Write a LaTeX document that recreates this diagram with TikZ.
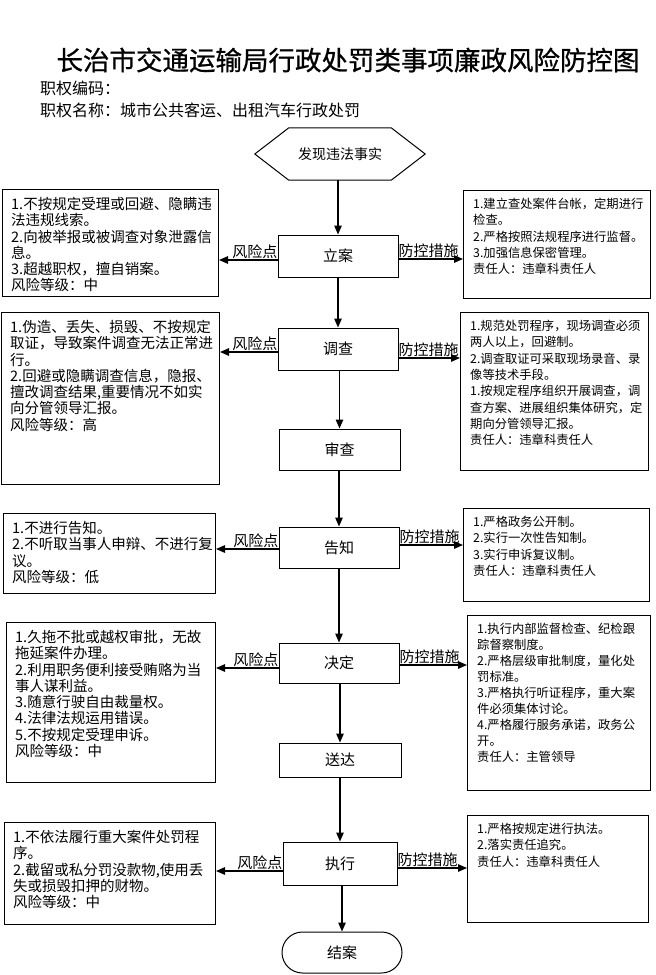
\documentclass[tikz,border=0pt]{standalone}
\usepackage{fontspec}
\setmainfont{Noto Sans CJK SC}
\newfontfamily\titlefont{Noto Sans CJK SC}[FakeBold=0.8]
\usetikzlibrary{arrows.meta,shapes.misc}
\begin{document}
\begin{tikzpicture}[x=1pt,y=1pt,
  frame/.style={draw=black, line width=1pt, inner sep=0pt},
  cbox/.style={frame, font=\fontsize{15}{18}\selectfont},
  lt/.style={align=left, inner sep=0pt, anchor=north west, font=\fontsize{14.5}{16.3}\selectfont},
  rt/.style={align=left, inner sep=0pt, anchor=north west, font=\fontsize{12.3}{16.3}\selectfont},
  lab/.style={inner xsep=0pt, inner ysep=1.5pt, font=\fontsize{15}{18}\selectfont},
  arr/.style={line width=1.3pt, -{Triangle[length=9pt,width=7.5pt]}}
]
\useasboundingbox (0,0) rectangle (656,-975);

% title and header
\node[inner sep=0pt, font=\titlefont\fontsize{26.5}{30}\selectfont] (title) at (348,-60) {长治市交通运输局行政处罚类事项廉政风险防控图};
\node[inner sep=0pt, anchor=west, font=\fontsize{16}{19}\selectfont] (code) at (40,-88) {职权编码：};
\node[inner sep=0pt, anchor=west, font=\fontsize{16}{19}\selectfont] (name) at (40,-110) {职权名称：城市公共客运、出租汽车行政处罚};

% start hexagon
\node[minimum width=170pt, minimum height=52pt, inner sep=0pt, font=\fontsize{14}{17}\selectfont] (hex) at (340,-154) {发现违法事实};
\draw[line width=1pt] (hex.west) -- ([xshift=34pt]hex.north west) -- ([xshift=-34pt]hex.north east) -- (hex.east) -- ([xshift=-34pt]hex.south east) -- ([xshift=34pt]hex.south west) -- cycle;

% centre steps
\node[cbox, minimum width=120pt, minimum height=42pt] (C1) at (338,-256) {立案};
\node[cbox, minimum width=120pt, minimum height=42pt] (C2) at (338,-349) {调查};
\node[cbox, minimum width=121pt, minimum height=41pt] (C3) at (339.5,-449.5) {审查};
\node[cbox, minimum width=120pt, minimum height=41pt] (C4) at (339,-547.5) {告知};
\node[cbox, minimum width=120pt, minimum height=40pt] (C5) at (339,-663) {决定};
\node[cbox, minimum width=122pt, minimum height=34pt] (C6) at (340,-760) {送达};
\node[cbox, minimum width=114pt, minimum height=43pt] (C7) at (340,-863.5) {执行};
\node[cbox, rounded rectangle, minimum width=120pt, minimum height=41pt] (E) at (342,-952.5) {结案};

% vertical flow
\draw[arr] (C1.north |- hex.south) -- (C1.north);
\draw[arr] (C2.north |- C1.south) -- (C2.north);
\draw[arr] (C3.north |- C2.south) -- (C3.north);
\draw[arr] (C4.north |- C3.south) -- (C4.north);
\draw[arr] (C5.north |- C4.south) -- (C5.north);
\draw[arr] (C6.north |- C5.south) -- (C6.north);
\draw[arr] (C7.north |- C6.south) -- (C7.north);
\draw[arr] (E.north |- C7.south) -- (E.north);

% left risk boxes
\node[frame, anchor=north west, minimum width=216pt, minimum height=107pt] (L1) at (2,-189) {};
\node[frame, anchor=north west, minimum width=218pt, minimum height=172pt] (L2) at (1,-312) {};
\node[frame, anchor=north west, minimum width=212pt, minimum height=80pt] (L3) at (3,-513) {};
\node[frame, anchor=north west, minimum width=209pt, minimum height=160pt] (L4) at (6,-622) {};
\node[frame, anchor=north west, minimum width=211pt, minimum height=102pt] (L5) at (4,-822) {};

\node[lt] (L1t) at ([xshift=9pt,yshift=-8pt]L1.north west) {1.不按规定受理或回避、隐瞒违\\法违规线索。\\2.向被举报或被调查对象泄露信\\息。\\3.超越职权，擅自销案。\\风险等级：中};
\node[lt] (L2t) at ([xshift=9pt,yshift=-8pt]L2.north west) {1.伪造、丢失、损毁、不按规定\\取证，导致案件调查无法正常进\\行。\\2.回避或隐瞒调查信息，隐报、\\擅改调查结果,重要情况不如实\\向分管领导汇报。\\风险等级：高};
\node[lt] (L3t) at ([xshift=9pt,yshift=-8pt]L3.north west) {1.不进行告知。\\2.不听取当事人申辩、不进行复\\议。\\风险等级：低};
\node[lt] (L4t) at ([xshift=9pt,yshift=-8pt]L4.north west) {1.久拖不批或越权审批，无故\\拖延案件办理。\\2.利用职务便利接受贿赂为当\\事人谋利益。\\3.随意行驶自由裁量权。\\4.法律法规运用错误。\\5.不按规定受理申诉。\\风险等级：中};
\node[lt] (L5t) at ([xshift=9pt,yshift=-8pt]L5.north west) {1.不依法履行重大案件处罚程\\序。\\2.截留或私分罚没款物,使用丢\\失或损毁扣押的财物。\\风险等级：中};

% right control boxes
\node[frame, anchor=north west, minimum width=187pt, minimum height=108pt] (R1) at (463,-190) {};
\node[frame, anchor=north west, minimum width=188pt, minimum height=158pt] (R2) at (460,-312) {};
\node[frame, anchor=north west, minimum width=186pt, minimum height=93pt] (R3) at (463,-508) {};
\node[frame, anchor=north west, minimum width=183pt, minimum height=175pt] (R4) at (467,-615) {};
\node[frame, anchor=north west, minimum width=181pt, minimum height=107pt] (R5) at (467,-815) {};

\node[rt] (R1t) at ([xshift=10pt,yshift=-8pt]R1.north west) {1.建立查处案件台帐，定期进行\\检查。\\2.严格按照法规程序进行监督。\\3.加强信息保密管理。\\责任人：违章科责任人};
\node[rt] (R2t) at ([xshift=10pt,yshift=-8pt]R2.north west) {1.规范处罚程序，现场调查必须\\两人以上，回避制。\\2.调查取证可采取现场录音、录\\像等技术手段。\\1.按规定程序组织开展调查，调\\查方案、进展组织集体研究，定\\期向分管领导汇报。\\责任人：违章科责任人};
\node[rt] (R3t) at ([xshift=10pt,yshift=-8pt]R3.north west) {1.严格政务公开制。\\2.实行一次性告知制。\\3.实行申诉复议制。\\责任人：违章科责任人};
\node[rt, font=\fontsize{12.3}{16}\selectfont] (R4t) at ([xshift=10pt,yshift=-8pt]R4.north west) {1.执行内部监督检查、纪检跟\\踪督察制度。\\2.严格层级审批制度，量化处\\罚标准。\\3.严格执行听证程序，重大案\\件必须集体讨论。\\4.严格履行服务承诺，政务公\\开。\\责任人：主管领导};
\node[rt] (R5t) at ([xshift=10pt,yshift=-8pt]R5.north west) {1.严格按规定进行执法。\\2.落实责任追究。\\责任人：违章科责任人};

% risk connectors (left)
\draw[arr] ([yshift=-4pt]C1.west) -- ([yshift=-4pt]C1.west -| L1.east);
\node[lab, anchor=south east] (k1) at ([yshift=-4pt]C1.west) {风险点};
\draw[arr] ([yshift=-3pt]C2.west) -- ([yshift=-3pt]C2.west -| L2.east);
\node[lab, anchor=south east] (k2) at ([yshift=-3pt]C2.west) {风险点};
\draw[arr] ([yshift=-1.5pt]C4.west) -- ([yshift=-1.5pt]C4.west -| L3.east);
\node[lab, anchor=south east] (k3) at ([yshift=-1.5pt]C4.west) {风险点};
\draw[arr] ([yshift=-5pt]C5.west) -- ([yshift=-5pt]C5.west -| L4.east);
\node[lab, anchor=south east] (k4) at ([yshift=-5pt]C5.west) {风险点};
\draw[arr] ([yshift=-7.5pt]C7.west) -- ([yshift=-7.5pt]C7.west -| L5.east);
\node[lab, anchor=south east] (k5) at ([yshift=-7.5pt]C7.west) {风险点};

% control connectors (right)
\draw[arr] ([yshift=-3pt]C1.east) -- ([yshift=-3pt]C1.east -| R1.west);
\node[lab, anchor=south west] (p1) at ([yshift=-3pt]C1.east) {防控措施};
\draw[arr] ([yshift=-9pt]C2.east) -- ([yshift=-9pt]C2.east -| R2.west);
\node[lab, anchor=south west] (p2) at ([yshift=-9pt]C2.east) {防控措施};
\draw[arr] ([yshift=2.5pt]C4.east) -- ([yshift=2.5pt]C4.east -| R3.west);
\node[lab, anchor=south west] (p3) at ([yshift=2.5pt]C4.east) {防控措施};
\draw[arr] ([yshift=-2pt]C5.east) -- ([yshift=-2pt]C5.east -| R4.west);
\node[lab, anchor=south west] (p4) at ([yshift=-2pt]C5.east) {防控措施};
\draw[arr] ([yshift=-4.5pt]C7.east) -- ([yshift=-4.5pt]C7.east -| R5.west);
\node[lab, anchor=south west] (p5) at ([yshift=-4.5pt]C7.east) {防控措施};
\end{tikzpicture}
\end{document}
